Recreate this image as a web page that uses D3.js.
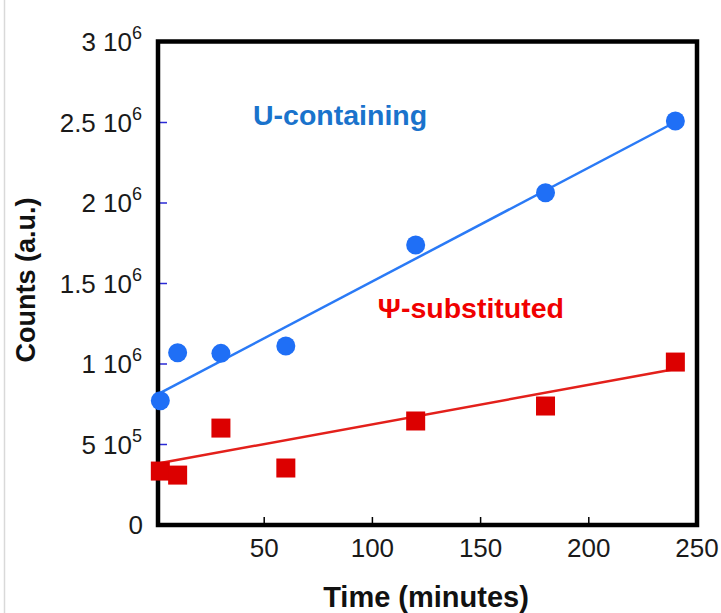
<!DOCTYPE html>
<html><head><meta charset="utf-8">
<script src="https://cdn.jsdelivr.net/npm/d3@7/dist/d3.min.js"></script>
<style>html,body{margin:0;padding:0;background:#fff;}svg{display:block;}</style>
</head><body>
<script>
// ---- data ----
const times = [2, 10, 30, 60, 120, 180, 240];
const uContaining = [0.772e6, 1.07e6, 1.066e6, 1.112e6, 1.739e6, 2.064e6, 2.509e6];
const psiSubstituted = [0.335e6, 0.31e6, 0.602e6, 0.354e6, 0.646e6, 0.739e6, 1.012e6];
// fitted trend lines (endpoints)
const uFit = [[2, 0.82e6], [240, 2.503e6]];
const psiFit = [[2, 0.385e6], [240, 0.969e6]];
const xTicks = [50, 100, 150, 200, 250];
const yTicks = [0, 5e5, 1e6, 1.5e6, 2e6, 2.5e6, 3e6];
const yTickLabels = [["0",""],["5 10","5"],["1 10","6"],["1.5 10","6"],["2 10","6"],["2.5 10","6"],["3 10","6"]];

const W = 721, H = 613;
const svg = d3.select("body").append("svg").attr("width", W).attr("height", H);
const font = "'Liberation Sans', Arial, sans-serif";

// faint left border
svg.append("line").attr("x1", 4.5).attr("x2", 4.5).attr("y1", 0).attr("y2", H)
  .attr("stroke", "#d9d9d9").attr("stroke-width", 1.5);

const x = d3.scaleLinear().domain([0, 250]).range([156, 697]);
const y = d3.scaleLinear().domain([0, 3e6]).range([525, 42]);
const fL = 158, fR = 697, fT = 41.5, fB = 525;

// y ticks (inside, blue)
svg.append("g").selectAll("line").data(yTicks.filter(d => d > 0 && d < 3e6)).join("line")
  .attr("x1", fL).attr("x2", fL + 9).attr("y1", d => y(d)).attr("y2", d => y(d))
  .attr("stroke", "#2a2ad6").attr("stroke-width", 1.5);
// x ticks (inside, black)
svg.append("g").selectAll("line").data(xTicks.filter(d => d < 250)).join("line")
  .attr("x1", d => x(d)).attr("x2", d => x(d)).attr("y1", fB).attr("y2", fB - 8)
  .attr("stroke", "#000").attr("stroke-width", 1.5);

// frame
svg.append("rect").attr("x", fL).attr("y", fT).attr("width", fR - fL).attr("height", fB - fT)
  .attr("fill", "none").attr("stroke", "#000").attr("stroke-width", 4.5);

// tick labels
const yl = svg.append("g").selectAll("text").data(yTicks).join("text")
  .attr("x", 142).attr("y", d => y(d) + 9)
  .attr("font-family", font).attr("font-size", 26).attr("fill", "#1a1a1a")
  .attr("text-anchor", "end");
yl.each(function(d, i) {
  const t = d3.select(this);
  const lab = yTickLabels[i];
  if (lab[1] === "") { t.attr("x", 143).text(lab[0]); return; }
  t.append("tspan").text(lab[0]);
  t.append("tspan").attr("dy", -12).attr("font-size", 18).text(lab[1]);
});
svg.append("g").selectAll("text").data(xTicks).join("text")
  .attr("x", d => x(d)).attr("y", 557)
  .attr("text-anchor", "middle").attr("font-family", font).attr("font-size", 26)
  .attr("fill", "#1a1a1a").text(d => d);

// axis titles
svg.append("text").attr("x", 426).attr("y", 607).attr("text-anchor", "middle")
  .attr("font-family", font).attr("font-weight", "bold").attr("font-size", 29)
  .attr("fill", "#111").text("Time (minutes)");
svg.append("text").attr("transform", "translate(35,280) rotate(-90)").attr("text-anchor", "middle")
  .attr("font-family", font).attr("font-weight", "bold").attr("font-size", 27)
  .attr("fill", "#111").text("Counts (a.u.)");

// fit lines
const line = d3.line().x(d => x(d[0])).y(d => y(d[1]));
svg.append("path").attr("d", line(uFit)).attr("stroke", "#2a7af6").attr("stroke-width", 2.5).attr("fill", "none");
svg.append("path").attr("d", line(psiFit)).attr("stroke", "#e3201b").attr("stroke-width", 2.5).attr("fill", "none");

// markers
svg.append("g").selectAll("circle").data(times).join("circle")
  .attr("cx", d => x(d)).attr("cy", (d, i) => y(uContaining[i])).attr("r", 9.5)
  .attr("fill", "#1f6ff6");
const s = 19;
svg.append("g").selectAll("rect").data(times).join("rect")
  .attr("x", d => x(d) - s / 2).attr("y", (d, i) => y(psiSubstituted[i]) - s / 2)
  .attr("width", s).attr("height", s).attr("fill", "#dc0000");

// series labels
svg.append("text").attr("x", 253).attr("y", 125)
  .attr("font-family", font).attr("font-weight", "bold").attr("font-size", 28.5)
  .attr("fill", "#1a73cc").text("U-containing");
svg.append("text").attr("x", 564).attr("y", 318).attr("text-anchor", "end")
  .attr("font-family", font).attr("font-weight", "bold").attr("font-size", 28.5)
  .attr("fill", "#f00000").text("Ψ-substituted");
</script>
</body></html>
